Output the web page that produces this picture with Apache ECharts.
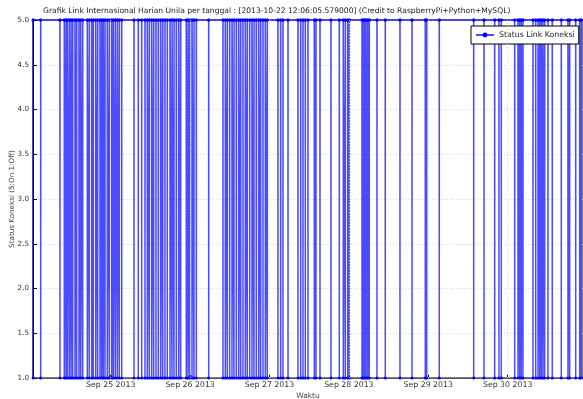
<!DOCTYPE html>
<html>
<head>
<meta charset="utf-8">
<script src="https://cdn.jsdelivr.net/npm/echarts@6/dist/echarts.min.js"></script>
<style>html,body{margin:0;padding:0;background:#fff}#c{width:583px;height:399px}</style>
</head>
<body>
<div id="c"></div>
<script>
// Hours since 2013-09-24 00:00 at which the link dropped to Off (1) and came back On (5)
var dipHours = [
  0.55, 2.84, 8.67, 9.97, 10.49, 10.88, 11.48, 12.0, 12.51, 13.21, 13.72, 14.42, 14.93, 15.54,
  16.93, 17.53, 18.26, 18.74, 19.47, 20.07, 20.77, 21.28, 21.76, 22.28, 22.97, 23.58, 24.30,
  24.79, 25.39, 26.0, 26.6, 27.33, 31.04, 32.34, 33.37, 34.37, 35.06, 35.67, 36.39, 37.0,
  37.69, 38.39, 39.11, 39.72, 40.41, 41.11, 41.93, 42.53, 43.14, 43.83, 44.56, 45.16, 46.85,
  47.37, 47.88, 48.58, 49.18, 49.88, 53.63, 57.95, 58.64, 59.25, 59.97, 60.67, 61.27, 61.97,
  62.69, 63.30, 63.99, 64.69, 65.29, 66.02, 66.71, 67.32, 68.01, 68.74, 69.34, 70.04, 70.74,
  71.34, 74.57, 75.39, 76.09, 77.60, 80.62, 81.44, 82.13, 82.83, 83.64, 85.55, 86.06, 87.27,
  90.60, 93.11, 94.31, 94.92, 95.64, 96.13, 99.97, 100.36, 100.78, 101.18, 101.69, 102.17,
  104.50, 107.01, 111.45, 115.08, 119.10, 119.53, 123.33, 133.73, 136.85, 140.08, 141.38,
  142.08, 146.13, 147.13, 147.64, 148.12, 148.64, 151.66, 152.48, 153.17, 153.69, 154.17,
  154.68, 155.20, 156.19, 157.49, 160.22, 162.24, 162.75, 164.57, 165.78, 166.26
];
var onValue = 5;
var offValue = 1;
var tickHours = [24, 48, 72, 96, 120, 144];
var tickLabels = ['Sep 25 2013', 'Sep 26 2013', 'Sep 27 2013', 'Sep 28 2013', 'Sep 29 2013', 'Sep 30 2013'];
var xMinHours = 0.51;
var xMaxHours = 166.78;

var sampleStep = 0.02;
var seriesData = [];
dipHours.forEach(function (h) {
  seriesData.push([h - sampleStep, onValue]);
  seriesData.push([h, offValue]);
  seriesData.push([h + sampleStep, onValue]);
});

var chart = echarts.init(document.getElementById('c'), null, {renderer: 'canvas'});
var font = 'DejaVu Sans';
chart.setOption({
  animation: false,
  backgroundColor: '#fff',
  title: {
    text: 'Grafik Link Internasional Harian Unila per tanggal : [2013-10-22 12:06:05.579000] (Credit to RaspberryPi+Python+MySQL)',
    left: 38, top: 2,
    textStyle: {fontFamily: font, fontSize: 7.6, fontWeight: 'normal', color: '#222'}
  },
  legend: {
    left: 471, top: 26,
    data: ['Status Link Koneksi'],
    itemWidth: 18, itemHeight: 6, itemGap: 4,
    backgroundColor: '#fff', borderColor: '#000', borderWidth: 1, borderRadius: 0,
    padding: [5, 4],
    textStyle: {fontFamily: font, fontSize: 7.8, color: '#222'}
  },
  grid: {left: 33, right: 0, top: 20, bottom: 21, containLabel: false, outerBoundsMode: 'none',
    show: true, borderColor: '#000', borderWidth: 1, backgroundColor: '#fff'},
  xAxis: {
    type: 'value', min: xMinHours, max: xMaxHours,
    name: 'Waktu', nameLocation: 'middle', nameGap: 14, nameMoveOverlap: false,
    nameTextStyle: {fontFamily: font, fontSize: 7.5, color: '#444'},
    axisLine: {lineStyle: {color: '#555'}},
    axisTick: {show: true, inside: true, length: 4, customValues: tickHours, lineStyle: {color: '#000'}},
    axisLabel: {
      customValues: tickHours, fontFamily: font, fontSize: 7.8, color: '#333', margin: 3,
      formatter: function (v) { return tickLabels[tickHours.indexOf(v)] || ''; }
    },
    splitLine: {show: false}
  },
  yAxis: {
    type: 'value', min: 1, max: 5, interval: 0.5,
    name: 'Status Koneksi (5:On 1:Off)', nameLocation: 'middle', nameGap: 17, nameMoveOverlap: false,
    nameTextStyle: {fontFamily: font, fontSize: 7.2, color: '#444'},
    axisLine: {show: true, lineStyle: {color: '#000'}},
    axisTick: {show: true, inside: true, length: 4, lineStyle: {color: '#000'}},
    axisLabel: {fontFamily: font, fontSize: 7.2, color: '#333', margin: 4,
      formatter: function (v) { return v.toFixed(1); }},
    splitLine: {show: true, lineStyle: {color: '#d8d8d8', type: [1, 2]}}
  },
  series: [{
    name: 'Status Link Koneksi',
    type: 'line',
    data: seriesData,
    showSymbol: true, showAllSymbol: true,
    symbol: 'circle', symbolSize: 3,
    itemStyle: {color: '#0000ff'},
    lineStyle: {color: 'rgba(0,0,255,0.7)', width: 1.5},
    markLine: {
      silent: true, symbol: 'none', label: {show: false},
      lineStyle: {color: '#d8d8d8', type: [1, 2], width: 1},
      data: tickHours.map(function (h) { return {xAxis: h}; })
    }
  }]
});
</script>
</body>
</html>
